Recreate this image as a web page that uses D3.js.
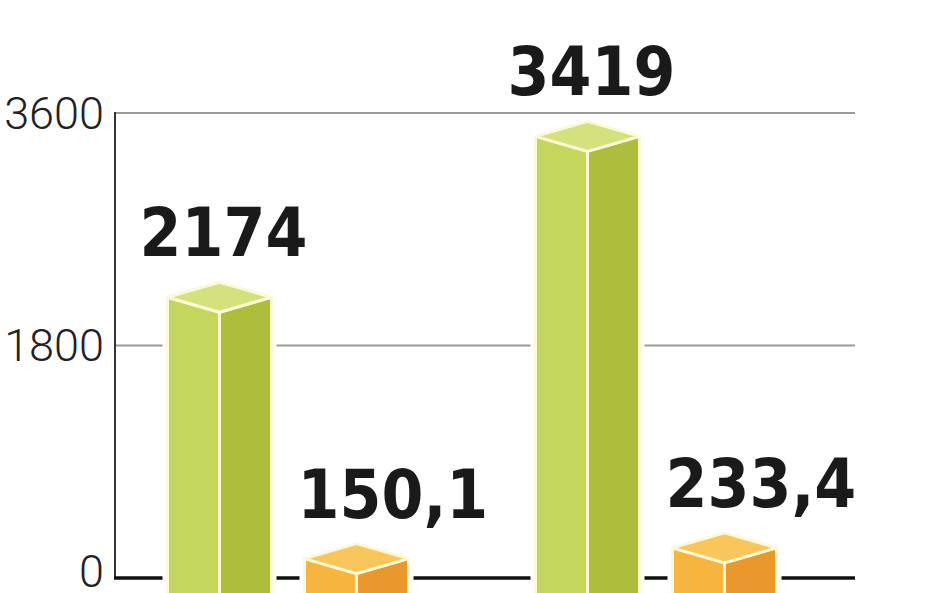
<!DOCTYPE html>
<html>
<head>
<meta charset="utf-8">
<script src="https://cdn.jsdelivr.net/npm/d3@7"></script>
<style>
  html, body { margin: 0; padding: 0; background: #ffffff; }
  svg { display: block; }
</style>
</head>
<body>
<svg id="chart" width="948" height="593"></svg>
<script>
// Two periods, two measures per period
const groups = ["okres 1", "okres 2"];
const series = ["ilość", "wartość"];
const greenValues = [2174, 3419];
const orangeValues = [150.1, 233.4];
const yTicks = [0, 1800, 3600];

const svg = d3.select("#chart");

const plotLeft = 115, plotRight = 855;
const y = d3.scaleLinear().domain([0, 3600]).range([578, 113]);

const x0 = d3.scaleBand().domain(groups).range([104, 840]).padding(0);
const x1 = d3.scaleBand().domain(series).range([-120.5, 120.5]).paddingInner(0.2409);

const palette = {
  "ilość":   { left: "#c4d65c", right: "#adbe3c", top: "#d4e27e" },
  "wartość": { left: "#f6b53f", right: "#ea982b", top: "#f8c65a" }
};

const fmt = d3.formatLocale({ decimal: ",", thousands: " ", grouping: [3], currency: ["", ""] }).format("~f");

// Gridlines and axis
const grid = svg.append("g");
yTicks.filter(t => t > 0).forEach(t => {
  grid.append("line")
    .attr("x1", plotLeft).attr("x2", plotRight)
    .attr("y1", y(t)).attr("y2", y(t))
    .attr("stroke", "#9a9a9a").attr("stroke-width", 2);
});
grid.append("line")
  .attr("x1", plotLeft).attr("x2", plotLeft)
  .attr("y1", y(3600) - 1).attr("y2", y(0))
  .attr("stroke", "#333").attr("stroke-width", 2);
grid.append("line")
  .attr("x1", plotLeft - 1).attr("x2", plotRight)
  .attr("y1", y(0)).attr("y2", y(0))
  .attr("stroke", "#111").attr("stroke-width", 3.5);

// Tick labels
svg.append("g").selectAll("text").data(yTicks).join("text")
  .attr("x", 104).attr("y", d => y(d))
  .attr("dy", d => d === 0 ? "0.2em" : "0.35em")
  .attr("text-anchor", "end")
  .attr("font-family", "Roboto, 'Open Sans', sans-serif")
  .attr("font-weight", 300)
  .attr("font-size", 45)
  .attr("fill", "#222")
  .text(d => d);

// 3D prisms
const rows = [];
groups.forEach((g, i) => {
  rows.push({ group: g, key: series[0], value: greenValues[i] });
  rows.push({ group: g, key: series[1], value: orangeValues[i] });
});

const hw = x1.bandwidth() / 2;
const dy = 15;
const base = y(0) + 2 * dy;   // prisms run on past the bottom edge

const bars = svg.append("g").selectAll("g").data(rows).join("g");

bars.each(function (d) {
  const g = d3.select(this);
  const cx = x0(d.group) + x0.bandwidth() / 2 + x1(d.key) + hw;
  const yv = y(d.value);
  const c = palette[d.key];
  const left = [[cx - hw, yv], [cx, yv + dy], [cx, base + dy], [cx - hw, base]];
  const right = [[cx, yv + dy], [cx + hw, yv], [cx + hw, base], [cx, base + dy]];
  const top = [[cx - hw, yv], [cx, yv - dy], [cx + hw, yv], [cx, yv + dy]];
  const outline = [[cx - hw, yv], [cx, yv - dy], [cx + hw, yv], [cx + hw, base], [cx, base + dy], [cx - hw, base]];
  const pts = p => p.map(q => q.join(",")).join(" ");
  // white halo separating the prism from grid lines
  g.append("polygon").attr("points", pts(outline))
    .attr("fill", "#fff").attr("stroke", "#fff").attr("stroke-width", 10).attr("stroke-linejoin", "round");
  [[left, c.left], [right, c.right], [top, c.top]].forEach(([p, col]) => {
    g.append("polygon").attr("points", pts(p))
      .attr("fill", col).attr("stroke", "#fcf9d6").attr("stroke-width", 3).attr("stroke-linejoin", "round");
  });
  d.cx = cx;
  d.topY = yv - dy;
});

// Value labels: integer part centred over the prism
bars.each(function (d) {
  const g = d3.select(this);
  const label = fmt(d.value);
  const intPart = label.split(",")[0];
  const t = g.append("text")
    .attr("font-family", "'DejaVu Sans Condensed', 'DejaVu Sans', sans-serif")
    .attr("font-weight", "bold")
    .attr("font-size", 67)
    .attr("fill", "#1a1a1a")
    .attr("y", d.topY - 26)
    .text(intPart);
  const wInt = t.node().getComputedTextLength();
  t.text(label).attr("x", d.cx - wInt / 2 + 4);
});
</script>
</body>
</html>
